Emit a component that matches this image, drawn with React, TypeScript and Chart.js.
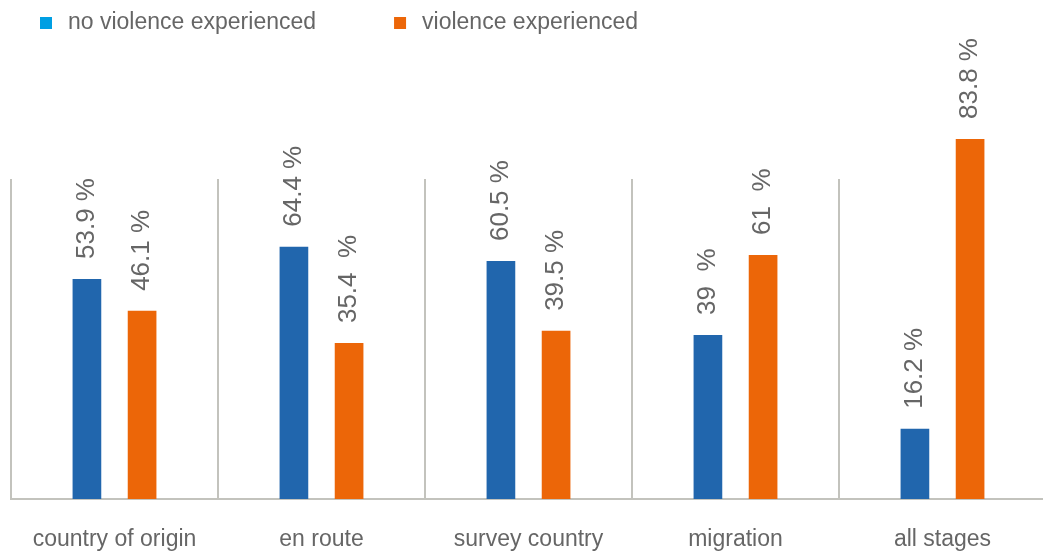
import { useEffect, useRef } from 'react';
import { Chart, registerables } from 'chart.js';

Chart.register(...registerables);

const categories = ['country of origin', 'en route', 'survey country', 'migration', 'all stages'];
const seriesNames = ['no violence experienced', 'violence experienced'];
// bar heights as drawn in the picture (percent units)
const noViolence = [53.9, 61.8, 58.3, 40.2, 17.2];
const violence = [46.1, 38.2, 41.2, 59.8, 88.2];
// value labels printed above the bars
const noViolenceLabels = ['53.9 %', '64.4 %', '60.5 %', '39  %', '16.2 %'];
const violenceLabels = ['46.1 %', '35.4  %', '39.5 %', '61  %', '83.8 %'];
const yMax = 78.4;

const FONT = '"Liberation Sans", Arial, sans-serif';
const TEXT = '#666666';
const BLUE = '#2166ad';
const ORANGE = '#ec6608';
const LEGEND_BLUE = '#009fe3';
const GRID = '#c3c3bd';

const valueLabelPlugin = {
  id: 'valueLabels',
  afterDatasetsDraw(chart: any) {
    const ctx = chart.ctx;
    ctx.save();
    ctx.font = `26px ${FONT}`;
    ctx.fillStyle = TEXT;
    ctx.textAlign = 'left';
    ctx.textBaseline = 'middle';
    chart.data.datasets.forEach((ds: any, i: number) => {
      const meta = chart.getDatasetMeta(i);
      meta.data.forEach((el: any, j: number) => {
        const { x, y } = el.getProps(['x', 'y'], true);
        ctx.save();
        ctx.translate(x, y - 20);
        ctx.rotate(-Math.PI / 2);
        ctx.fillText(ds.valueLabels[j], 0, 0);
        ctx.restore();
      });
    });
    ctx.restore();
  },
};

const legendPlugin = {
  id: 'topLegend',
  afterDraw(chart: any) {
    const ctx = chart.ctx;
    ctx.save();
    ctx.font = `23px ${FONT}`;
    ctx.textBaseline = 'middle';
    ctx.textAlign = 'left';
    let x = 40;
    const cy = 23;
    chart.data.datasets.forEach((ds: any) => {
      ctx.fillStyle = ds.legendColor;
      ctx.fillRect(x, cy - 6, 12, 12);
      ctx.fillStyle = TEXT;
      ctx.fillText(ds.label, x + 28, cy);
      x += 28 + ctx.measureText(ds.label).width + 78;
    });
    ctx.restore();
  },
};

export default function App() {
  const ref = useRef<HTMLCanvasElement>(null);

  useEffect(() => {
    if (!ref.current) return;
    const chart = new Chart(ref.current, {
      type: 'bar',
      data: {
        labels: categories,
        datasets: [
          {
            label: seriesNames[0],
            data: noViolence,
            backgroundColor: BLUE,
            legendColor: LEGEND_BLUE,
            valueLabels: noViolenceLabels,
            categoryPercentage: 0.533,
            barPercentage: 0.52,
            clip: false,
          } as any,
          {
            label: seriesNames[1],
            data: violence,
            backgroundColor: ORANGE,
            legendColor: ORANGE,
            valueLabels: violenceLabels,
            categoryPercentage: 0.533,
            barPercentage: 0.52,
            clip: false,
          } as any,
        ],
      },
      options: {
        animation: false,
        responsive: false,
        layout: { padding: { top: 179, left: 11, right: 0, bottom: 0 } },
        plugins: {
          legend: { display: false },
          tooltip: { enabled: false },
        },
        scales: {
          x: {
            offset: true,
            grid: {
              offset: true,
              drawTicks: false,
              lineWidth: 2,
              color: (c: any) => (c.index === undefined ? 'rgba(0,0,0,0)' : GRID),
            },
            border: { display: true, color: GRID, width: 2 },
            ticks: {
              color: TEXT,
              font: { family: FONT, size: 23 },
              padding: 27,
              maxRotation: 0,
              autoSkip: false,
            },
            afterFit: (scale: any) => {
              scale.height = 52;
            },
          },
          y: {
            display: false,
            min: 0,
            max: yMax,
          },
        },
      },
      plugins: [valueLabelPlugin, legendPlugin],
    });
    return () => chart.destroy();
  }, []);

  return (
    <div style={{ position: 'fixed', left: 0, top: 0, width: 1043, height: 551, overflow: 'hidden' }}>
      <canvas
        ref={ref}
        width={1046}
        height={551}
        style={{ width: 1046, height: 551, display: 'block' }}
      />
    </div>
  );
}
